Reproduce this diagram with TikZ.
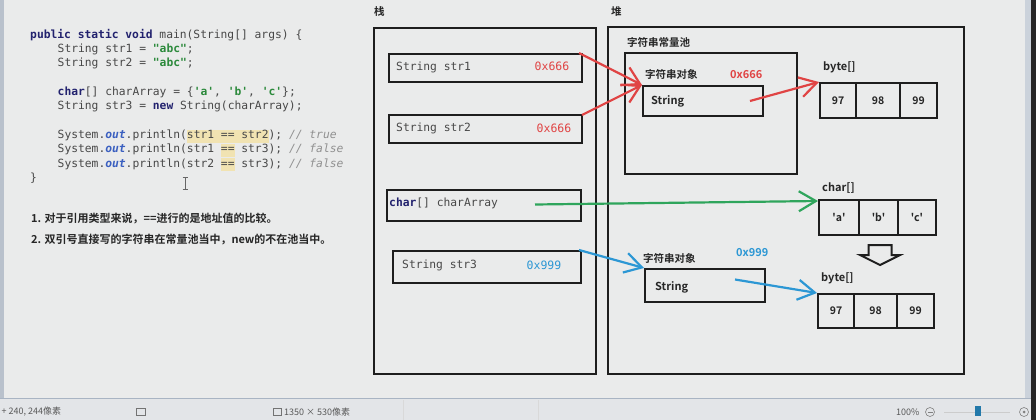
\documentclass[tikz,border=0pt]{standalone}
\usepackage{fontspec}
\setmainfont{Liberation Sans}
\setmonofont{DejaVu Sans Mono}
\newfontfamily\cjk{Noto Sans CJK SC}[BoldFont={Noto Sans CJK SC Bold}]
\usetikzlibrary{arrows.meta,calc}
\definecolor{bgc}{HTML}{EAEBEB}
\definecolor{codegray}{HTML}{484848}
\definecolor{kw}{HTML}{22226E}
\definecolor{strc}{HTML}{2C8A3C}
\definecolor{outc}{HTML}{3A5FC0}
\definecolor{cmt}{HTML}{909090}
\definecolor{hlc}{HTML}{F1E3B2}
\definecolor{redc}{HTML}{E04444}
\definecolor{greenc}{HTML}{2FA55C}
\definecolor{bluec}{HTML}{2C97D4}
\definecolor{boxc}{HTML}{1E1E1E}
\definecolor{statusbg}{HTML}{E3E5E8}
\definecolor{sepc}{HTML}{A9B4C3}
\definecolor{edgec}{HTML}{B9C1CC}
\newcommand{\hlbox}[1]{{\setlength{\fboxsep}{0pt}\colorbox{hlc}{\strut #1}}}
\tikzset{
  code/.style={anchor=west, inner sep=0pt, text=codegray, font=\ttfamily\fontsize{11.3}{13}\selectfont},
  note/.style={anchor=west, inner sep=0pt, text=black!85, font=\cjk\bfseries\fontsize{11}{13}\selectfont},
  box/.style={draw=boxc, line width=2pt, inner sep=0pt, anchor=north west},
  cell/.style={draw=boxc, line width=2pt, inner sep=0pt, anchor=north west, text=black!85, font=\cjk\bfseries\fontsize{10.5}{12}\selectfont},
  cjklabel/.style={anchor=west, inner sep=0pt, text=black!85, font=\cjk\bfseries\fontsize{10.5}{12}\selectfont},
  sanslabel/.style={anchor=west, inner sep=0pt, text=black!85, font=\cjk\bfseries\fontsize{11}{13}\selectfont},
  monolabel/.style={anchor=west, inner sep=0pt, text=codegray, font=\ttfamily\fontsize{11.3}{13}\selectfont},
  addr/.style={inner sep=0pt, font=\ttfamily\fontsize{11.5}{13}\selectfont},
  saddr/.style={anchor=west, inner sep=0pt, font=\cjk\bfseries\fontsize{11}{13}\selectfont},
  ptr/.style={line width=2.2pt, -{Straight Barb[length=17pt,width=20pt,line width=2.2pt]}},
  status/.style={anchor=west, inner sep=0pt, text=black!65, font=\cjk\fontsize{9}{11}\selectfont}
}
\begin{document}
\begin{tikzpicture}[x=1pt,y=-1pt]
\useasboundingbox (0,0) rectangle (1036,420);
\fill[bgc] (0,0) rectangle (1036,420);
% window edges and status bar
\fill[edgec] (0,0) rectangle (4,399);
\fill[sepc!60] (1025,0) rectangle (1031,399);
\fill[black!85] (1031,0) rectangle (1036,420);
\fill[statusbg] (0,399) rectangle (1031,420);
\draw[sepc, line width=1.5pt] (0,398.5) -- (1031,398.5);
\draw[black!15] (403,400) -- (403,420);
\draw[black!15] (538,400) -- (538,420);
\node[status] (st1) at (1.5,412) {+ 240, 244像素};
\draw[black!55, line width=0.6pt] (136,408) rectangle (145,415);
\draw[black!55, line width=0.6pt] (273,408) rectangle (281,415);
\node[status] (st2) at (284,412) {1350 × 530像素};
\node[status] (st3) at (896,412) {100\%};
\draw[black!50, line width=0.6pt] (930,412) circle (4.5);
\draw[black!50, line width=0.6pt] (927.5,412) -- (932.5,412);
\draw[black!20, line width=1pt] (944,412) -- (1010,412);
\fill[bluec!80!black] (975,406) rectangle (981,416);
\draw[black!50, line width=0.6pt] (1024,412) circle (4.5);
\fill[black!50] (1024,412) circle (1.5);
% code
\node[code] (c1) at (30,35) {\textcolor{kw}{\textbf{public static void}} main(String[] args) \{};
\node[code] (c2) at (57.5,49.5) {String str1 = \textcolor{strc}{\textbf{"abc"}};};
\node[code] (c3) at (57.5,63.5) {String str2 = \textcolor{strc}{\textbf{"abc"}};};
\node[code] (c4) at (57.5,92) {\textcolor{kw}{\textbf{char}}[] charArray = \{\textcolor{strc}{\textbf{'a'}}, \textcolor{strc}{\textbf{'b'}}, \textcolor{strc}{\textbf{'c'}}\};};
\node[code] (c5) at (57.5,106.5) {String str3 = \textcolor{kw}{\textbf{new}} String(charArray);};
\node[code] (c6) at (57.5,136) {System.\textcolor{outc}{\textbf{\textit{out}}}.println(\hlbox{str1 == str2}); \textcolor{cmt}{\textit{// true}}};
\node[code] (c7) at (57.5,150) {System.\textcolor{outc}{\textbf{\textit{out}}}.println(str1 \hlbox{==} str3); \textcolor{cmt}{\textit{// false}}};
\node[code] (c8) at (57.5,164.5) {System.\textcolor{outc}{\textbf{\textit{out}}}.println(str2 \hlbox{==} str3); \textcolor{cmt}{\textit{// false}}};
\node[code] (c9) at (30,178.5) {\}};
\draw[black!60, line width=0.7pt] (185,177) -- (185,189) (182.5,177) -- (187.5,177) (182.5,189) -- (187.5,189);
% notes
\node[note] (n1) at (31,219) {1. 对于引用类型来说，==进行的是地址值的比较。};
\node[note] (n2) at (31,240) {2. 双引号直接写的字符串在常量池当中，new的不在池当中。};
% stack
\node[cjklabel] (stl) at (374,12) {栈};
\node[box, minimum width=222pt, minimum height=346pt] (stack) at (373,27) {};
\node[box, minimum width=193pt, minimum height=28pt] (s1) at (388,53) {};
\node[monolabel] (s1t) at (396,67) {String str1};
\node[addr, text=redc] (s1a) at (552,66.5) {0x666};
\node[box, minimum width=193pt, minimum height=28pt] (s2) at (388,114) {};
\node[monolabel] (s2t) at (396,128) {String str2};
\node[addr, text=redc] (s2a) at (554,128) {0x666};
\node[box, minimum width=194pt, minimum height=31pt] (cas) at (386,189) {};
\node[monolabel] (cast) at (389,203.5) {\textcolor{kw}{\textbf{char}}[] charArray};
\node[box, minimum width=188pt, minimum height=32pt] (s3) at (392,250) {};
\node[monolabel] (s3t) at (402,265) {String str3};
\node[addr, text=bluec] (s3a) at (544,265) {0x999};
% heap
\node[cjklabel] (hpl) at (611,12) {堆};
\node[box, minimum width=356pt, minimum height=347pt] (heap) at (607,26) {};
\node[cjklabel] (pooll) at (627,42) {字符串常量池};
\node[box, minimum width=172pt, minimum height=121pt] (pool) at (624,52) {};
\node[cjklabel] (o1l) at (645,74) {字符串对象};
\node[saddr, text=redc] (o1a) at (730,75) {0x666};
\node[box, minimum width=120pt, minimum height=30pt] (so1) at (642,85) {};
\node[sanslabel] (so1t) at (651,101.5) {String};
\node[sanslabel] (b1l) at (823,67) {byte[]};
\node[cell, minimum width=36pt, minimum height=35pt] (b1a) at (819,82) {97};
\node[cell, minimum width=44pt, minimum height=35pt] (b1b) at (855,82) {98};
\node[cell, minimum width=37pt, minimum height=35pt] (b1c) at (899,82) {99};
\node[sanslabel] (cal) at (822,188) {char[]};
\node[cell, minimum width=40pt, minimum height=35pt] (caa) at (818,199) {'a'};
\node[cell, minimum width=39pt, minimum height=35pt] (cab) at (858,199) {'b'};
\node[cell, minimum width=38pt, minimum height=35pt] (cac) at (897,199) {'c'};
\draw[boxc, line width=2pt, line join=miter] (868.5,245) -- (891.5,245) -- (891.5,255) -- (900,255) -- (880,265) -- (860,255) -- (868.5,255) -- cycle;
\node[cjklabel] (o2l) at (643,258) {字符串对象};
\node[saddr, text=bluec] (o2a) at (736,253) {0x999};
\node[box, minimum width=120pt, minimum height=33pt] (so2) at (644,268) {};
\node[sanslabel] (so2t) at (655,287.5) {String};
\node[sanslabel] (b2l) at (821,278) {byte[]};
\node[cell, minimum width=36pt, minimum height=34pt] (b2a) at (817,293) {97};
\node[cell, minimum width=43pt, minimum height=34pt] (b2b) at (853,293) {98};
\node[cell, minimum width=37pt, minimum height=34pt] (b2c) at (896,293) {99};
% pointers
\draw[ptr, redc] ($(s1.north east)+(-4,0)$) -- (so1.north west);
\draw[ptr, redc] ($(s2.north east)+(-1,1)$) -- (so1.north west);
\draw[ptr, redc] ($(so1.east)+(-14,0)$) -- (b1a.north west);
\draw[ptr, greenc] ($(cas.east)+(-47,-1)$) -- ($(caa.north west)+(0,2)$);
\draw[ptr, bluec] ($(s3.north east)+(-3,0)$) -- (so2.north west);
\draw[ptr, bluec] ($(so2.east)+(-31,-6)$) -- (b2a.north west);
\end{tikzpicture}
\end{document}
